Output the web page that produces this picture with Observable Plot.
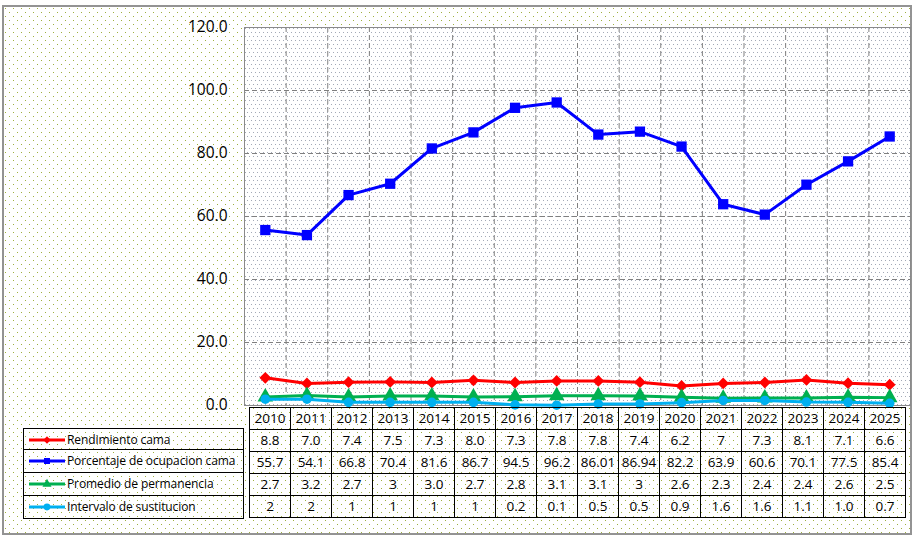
<!DOCTYPE html>
<html>
<head>
<meta charset="utf-8">
<script src="https://cdn.jsdelivr.net/npm/d3@7"></script>
<script src="https://cdn.jsdelivr.net/npm/@observablehq/plot@0.6"></script>
<style>
  body { margin: 0; background: #fff; font-family: "Open Sans", sans-serif; }
  #wrap { position: relative; width: 916px; height: 543px; overflow: hidden; background: #fff; }
  #outer {
    position: absolute; left: 2px; top: 5px; width: 910px; height: 530px; box-sizing: border-box;
    border: 2px solid #939393;
    background-image: url("data:image/svg+xml,%3Csvg xmlns='http://www.w3.org/2000/svg' width='8' height='8'%3E%3Crect x='1' y='1' width='1' height='1' fill='%239fb040'/%3E%3Crect x='5' y='5' width='1' height='1' fill='%239fb040'/%3E%3C/svg%3E");
  }
  #plotbg {
    position: absolute; left: 244px; top: 27px; width: 666px; height: 378px;
    background-color: #fff;
    background-image: url("data:image/svg+xml,%3Csvg xmlns='http://www.w3.org/2000/svg' width='4' height='8'%3E%3Crect x='1' y='1' width='1' height='1' fill='%23a3a9b6'/%3E%3Crect x='3' y='5' width='1' height='1' fill='%23a3a9b6'/%3E%3C/svg%3E");
  }
  #chart, #table { position: absolute; left: 0; }
  #chart { top: 0; }
  #table { top: 404px; }
  #legend { position: absolute; left: 23px; top: 427.6px; width: 221px; box-sizing: border-box; }
  .lrow { position: relative; height: 22.8px; border: 1px solid #000; border-top: none; box-sizing: border-box; }
  .lrow:first-child { border-top: 1px solid #000; }
  .lrow svg { position: absolute; left: 4px; top: 5px; }
  .lrow span { position: absolute; left: 43px; top: 2px; font-family: "Open Sans", sans-serif; font-size: 12px; letter-spacing: -0.1px; color: #000; white-space: nowrap; }
</style>
</head>
<body>
<div id="wrap">
  <div id="outer"></div>
  <div id="plotbg"></div>
  <div id="chart"></div>
  <div id="table"></div>
  <div id="legend"></div>
</div>
<script>
const years = [2010, 2011, 2012, 2013, 2014, 2015, 2016, 2017, 2018, 2019, 2020, 2021, 2022, 2023, 2024, 2025];
const rendimientoCama = ["8.8", "7.0", "7.4", "7.5", "7.3", "8.0", "7.3", "7.8", "7.8", "7.4", "6.2", "7", "7.3", "8.1", "7.1", "6.6"];
const porcentajeOcupacion = ["55.7", "54.1", "66.8", "70.4", "81.6", "86.7", "94.5", "96.2", "86.01", "86.94", "82.2", "63.9", "60.6", "70.1", "77.5", "85.4"];
const promedioPermanencia = ["2.7", "3.2", "2.7", "3", "3.0", "2.7", "2.8", "3.1", "3.1", "3", "2.6", "2.3", "2.4", "2.4", "2.6", "2.5"];
const intervaloSustitucion = ["2", "2", "1", "1", "1", "1", "0.2", "0.1", "0.5", "0.5", "0.9", "1.6", "1.6", "1.1", "1.0", "0.7"];

const seriesNames = ["Rendimiento cama", "Porcentaje de ocupacion cama", "Promedio de permanencia", "Intervalo de sustitucion"];
const seriesValues = [rendimientoCama, porcentajeOcupacion, promedioPermanencia, intervaloSustitucion];
const seriesColors = ["#ff0000", "#0000ff", "#00b050", "#00b0f0"];
const seriesSymbols = ["diamond2", "square", "triangle", "circle"];
const seriesRadius = [5.3, 5.8, 5.8, 4.8];
const yTicks = [0, 20, 40, 60, 80, 100, 120];

const rows = seriesNames.flatMap((name, i) =>
  seriesValues[i].map((v, j) => ({series: name, year: years[j], value: +v, label: v}))
);

const seriesMarks = seriesNames.flatMap((name, i) => {
  const data = rows.filter(d => d.series === name);
  return [
    Plot.line(data, {x: "year", y: "value", stroke: seriesColors[i], strokeWidth: 3}),
    Plot.dot(data, {x: "year", y: "value", symbol: seriesSymbols[i], r: seriesRadius[i], fill: seriesColors[i], stroke: "none"})
  ];
});

const chart = Plot.plot({
  width: 916,
  height: 406,
  marginLeft: 244,
  marginRight: 6,
  marginTop: 27,
  marginBottom: 1,
  style: {fontFamily: "Open Sans", fontSize: "15.5px", color: "#000", background: "transparent", overflow: "visible"},
  x: {type: "linear", domain: [years[0] - 0.5, years[years.length - 1] + 0.5], axis: null},
  y: {domain: [0, 120], axis: null},
  marks: [
    Plot.ruleX(years.slice(1).map(y => y - 0.5), {stroke: "#7f7f7f", strokeDasharray: "5,3"}),
    Plot.ruleY(yTicks.slice(1, -1), {stroke: "#7f7f7f", strokeDasharray: "5,3"}),
    Plot.frame({stroke: "#8a8a8a"}),
    Plot.axisY({ticks: yTicks, tickFormat: d => d.toFixed(1), tickSize: 0, tickPadding: 17, fill: "#000", label: null}),
    ...seriesMarks
  ]
});
document.getElementById("chart").appendChild(chart);

const tableCells = [
  ...years.map(y => ({year: y, row: "year", label: String(y)})),
  ...rows.map(d => ({year: d.year, row: d.series, label: d.label}))
];

const table = Plot.plot({
  width: 916,
  height: 116,
  marginLeft: 244,
  marginRight: 6,
  marginTop: 1,
  marginBottom: 1,
  style: {fontFamily: "Open Sans", fontSize: "13.5px", color: "#000", background: "transparent", overflow: "visible"},
  x: {type: "band", domain: years, padding: 0, axis: null},
  y: {type: "band", domain: ["year", ...seriesNames], padding: 0, axis: null},
  marks: [
    Plot.cell(tableCells, {x: "year", y: "row", fill: "none", stroke: "#000", shapeRendering: "crispEdges"}),
    Plot.text(tableCells, {x: "year", y: "row", text: "label", fill: "#000", fontSize: 13.5})
  ]
});
document.getElementById("table").appendChild(table);

// Legend column (series keys) of the data table
const legend = d3.select("#legend");
seriesNames.forEach((name, i) => {
  const row = legend.append("div").attr("class", "lrow");
  const svg = row.append("svg").attr("width", 38).attr("height", 12);
  svg.append("line").attr("x1", 1).attr("x2", 37).attr("y1", 6).attr("y2", 6)
    .attr("stroke", seriesColors[i]).attr("stroke-width", 3);
  const symType = {diamond2: d3.symbolDiamond2, square: d3.symbolSquare, triangle: d3.symbolTriangle, circle: d3.symbolCircle}[seriesSymbols[i]];
  svg.append("path").attr("transform", "translate(19,6)")
    .attr("d", d3.symbol(symType, 36)()).attr("fill", seriesColors[i]);
  row.append("span").text(name);
});
</script>
</body>
</html>
